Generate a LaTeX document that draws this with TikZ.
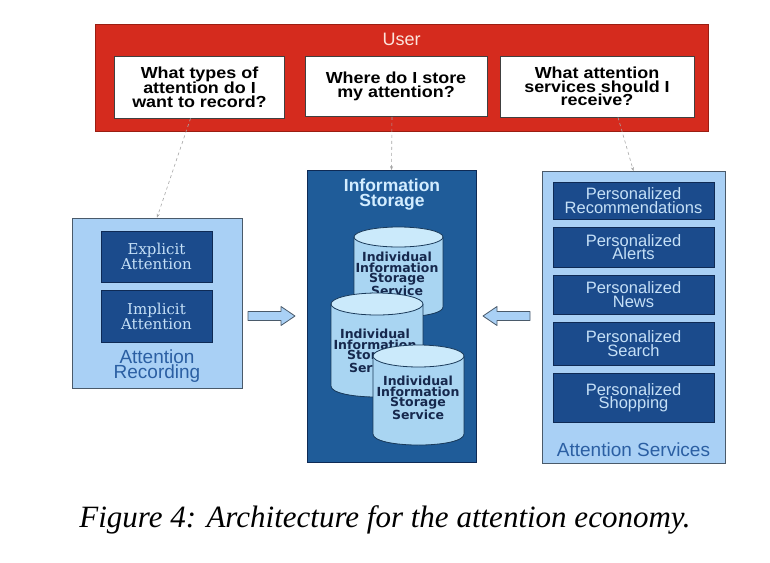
\documentclass[tikz,border=0pt]{standalone}
\usepackage{fontspec}
\usetikzlibrary{arrows.meta}
\setmainfont{Liberation Sans}
\newfontfamily\qfont[FakeStretch=1.12]{Liberation Sans}
\newfontfamily\serfont{DejaVu Serif}
\newfontfamily\cylfont{DejaVu Sans}
\newfontfamily\capfont{Liberation Serif}
\definecolor{redfill}{HTML}{D52B1E}
\definecolor{redline}{HTML}{9A1E12}
\definecolor{usertxt}{HTML}{FCE4DC}
\definecolor{paleblue}{HTML}{A9D0F5}
\definecolor{frameline}{HTML}{4A5A6A}
\definecolor{midblue}{HTML}{1F5C99}
\definecolor{darkbox}{HTML}{1B4B8C}
\definecolor{darkline}{HTML}{0E2A55}
\definecolor{boxtxt}{HTML}{C5E0F7}
\definecolor{cylbody}{HTML}{A9D5F2}
\definecolor{cyltop}{HTML}{CBEAFB}
\definecolor{cylline}{HTML}{1A3A5A}
\definecolor{cyltxt}{HTML}{16284D}
\definecolor{labelblue}{HTML}{2B5FA3}
\definecolor{titletxt}{HTML}{D3EDFF}
\begin{document}
\begin{tikzpicture}[x=1pt,y=-1pt,
  qbox/.style={draw=black!75,line width=0.8pt,fill=white,inner sep=0pt,align=center,
    font=\qfont\bfseries\fontsize{16}{13.5}\selectfont},
  frame/.style={draw=frameline,line width=0.8pt,fill=paleblue,inner sep=0pt},
  dbox/.style={draw=darkline,line width=0.8pt,fill=darkbox,inner sep=0pt,align=center,text=boxtxt},
  conn/.style={draw=gray!70,dashed,line width=0.6pt,-{Stealth[length=4pt,width=3pt]}},
  blockarrow/.style={draw=frameline,line width=0.8pt,fill=paleblue,line join=round},
  cyl/.style={draw=cylline,line width=0.8pt},
  cyltext/.style={align=center,text=cyltxt,inner sep=0pt,
    font=\cylfont\bfseries\fontsize{12.5}{10.2}\selectfont},
  lbl/.style={align=center,text=labelblue,inner sep=0pt,font=\fontsize{19}{15}\selectfont}
]
\useasboundingbox (0,0) rectangle (770,562);
\fill[white] (0,0) rectangle (770,562);

% User box
\node[draw=redline,line width=1pt,fill=redfill,minimum width=613pt,minimum height=107pt,inner sep=0pt] (user) at (401.5,77.5) {};
\node[text=usertxt,font=\fontsize{18}{18}\selectfont,inner sep=0pt] (usertitle) at (401.5,39) {User};
\node[qbox,minimum width=170pt,minimum height=62pt] (q1) at (199.5,87) {What types of\\attention do I\\want to record?};
\node[qbox,minimum width=182pt,minimum height=60pt] (q2) at (396,86.5) {Where do I store\\my attention?};
\node[qbox,minimum width=194pt,minimum height=61pt] (q3) at (597,86.5) {What attention\\services should I\\receive?};

% Attention recording
\node[frame,minimum width=170pt,minimum height=170pt] (rec) at (157,303) {};
\node[dbox,minimum width=111pt,minimum height=51pt,font=\serfont\fontsize{15}{13}\selectfont] (expl) at (156.5,256.5) {Explicit\\Attention};
\node[dbox,minimum width=111pt,minimum height=52pt,font=\serfont\fontsize{15}{13}\selectfont] (impl) at (156.5,316) {Implicit\\Attention};
\node[lbl] (reclbl) at (157,366) {Attention\\Recording};

% Information storage
\node[draw=darkline,line width=0.8pt,fill=midblue,minimum width=169pt,minimum height=292pt,inner sep=0pt] (mid) at (391.5,316.5) {};
\node[align=center,text=titletxt,inner sep=0pt,font=\bfseries\fontsize{17.5}{15}\selectfont] (midtitle) at (392,195) {Information\\Storage};

% cylinder 1
\fill[cylbody] (354,237) rectangle (443,307);
\fill[cylbody] (398.5,307) ellipse[x radius=44.5pt,y radius=10pt];
\draw[cyl] (354,237) -- (354,307) .. controls (354,320.3) and (443,320.3) .. (443,307) -- (443,237);
\filldraw[cyl,fill=cyltop] (398.5,237) ellipse[x radius=44.5pt,y radius=10pt];
\node[cyltext] (c1) at (397,274) {Individual\\Information\\Storage\\Service};
% cylinder 2
\fill[cylbody] (331,304) rectangle (423,386);
\fill[cylbody] (377,386) ellipse[x radius=46pt,y radius=11pt];
\draw[cyl] (331,304) -- (331,386) .. controls (331,400.7) and (423,400.7) .. (423,386) -- (423,304);
\filldraw[cyl,fill=cyltop] (377,304) ellipse[x radius=46pt,y radius=11pt];
\node[cyltext] (c2) at (375,351) {Individual\\Information\\Storage\\Service};
% cylinder 3
\fill[cylbody] (373,356) rectangle (464,434);
\fill[cylbody] (418.5,434) ellipse[x radius=45.5pt,y radius=11pt];
\draw[cyl] (373,356) -- (373,434) .. controls (373,448.7) and (464,448.7) .. (464,434) -- (464,356);
\filldraw[cyl,fill=cyltop] (418.5,356) ellipse[x radius=45.5pt,y radius=11pt];
\node[cyltext] (c3) at (418,398) {Individual\\Information\\Storage\\Service};

% Attention services
\node[frame,minimum width=183pt,minimum height=292pt] (svc) at (633.5,317.5) {};
\tikzset{sbox/.style={dbox,minimum width=161pt,font=\fontsize{16.5}{13.5}\selectfont}}
\node[sbox,minimum height=37pt] (s1) at (633.5,200.5) {Personalized\\Recommendations};
\node[sbox,minimum height=40pt] (s2) at (633.5,247) {Personalized\\Alerts};
\node[sbox,minimum height=39pt] (s3) at (633.5,294.5) {Personalized\\News};
\node[sbox,minimum height=43pt] (s4) at (633.5,343.5) {Personalized\\Search};
\node[sbox,minimum height=49pt] (s5) at (633.5,397.5) {Personalized\\Shopping};
\node[lbl] (svclbl) at (633.5,450) {Attention Services};

% dashed connectors
\draw[conn] ([xshift=-9pt]q1.south) -- (rec.north);
\draw[conn] ([xshift=-4pt]q2.south) -- (mid.north);
\draw[conn] ([xshift=21pt]q3.south) -- (svc.north);

% block arrows
\draw[blockarrow] (248,311.5) -- (281,311.5) -- (281,306.5) -- (295,316) -- (281,325.5) -- (281,320.5) -- (248,320.5) -- cycle;
\draw[blockarrow] (530,311.5) -- (497,311.5) -- (497,306.5) -- (483,316) -- (497,325.5) -- (497,320.5) -- (530,320.5) -- cycle;

% caption
\node[anchor=base,inner sep=0pt,font=\capfont\itshape\fontsize{31}{31}\selectfont] (caption) at (385,527) {Figure 4: Architecture for the attention economy.};
\end{tikzpicture}
\end{document}
